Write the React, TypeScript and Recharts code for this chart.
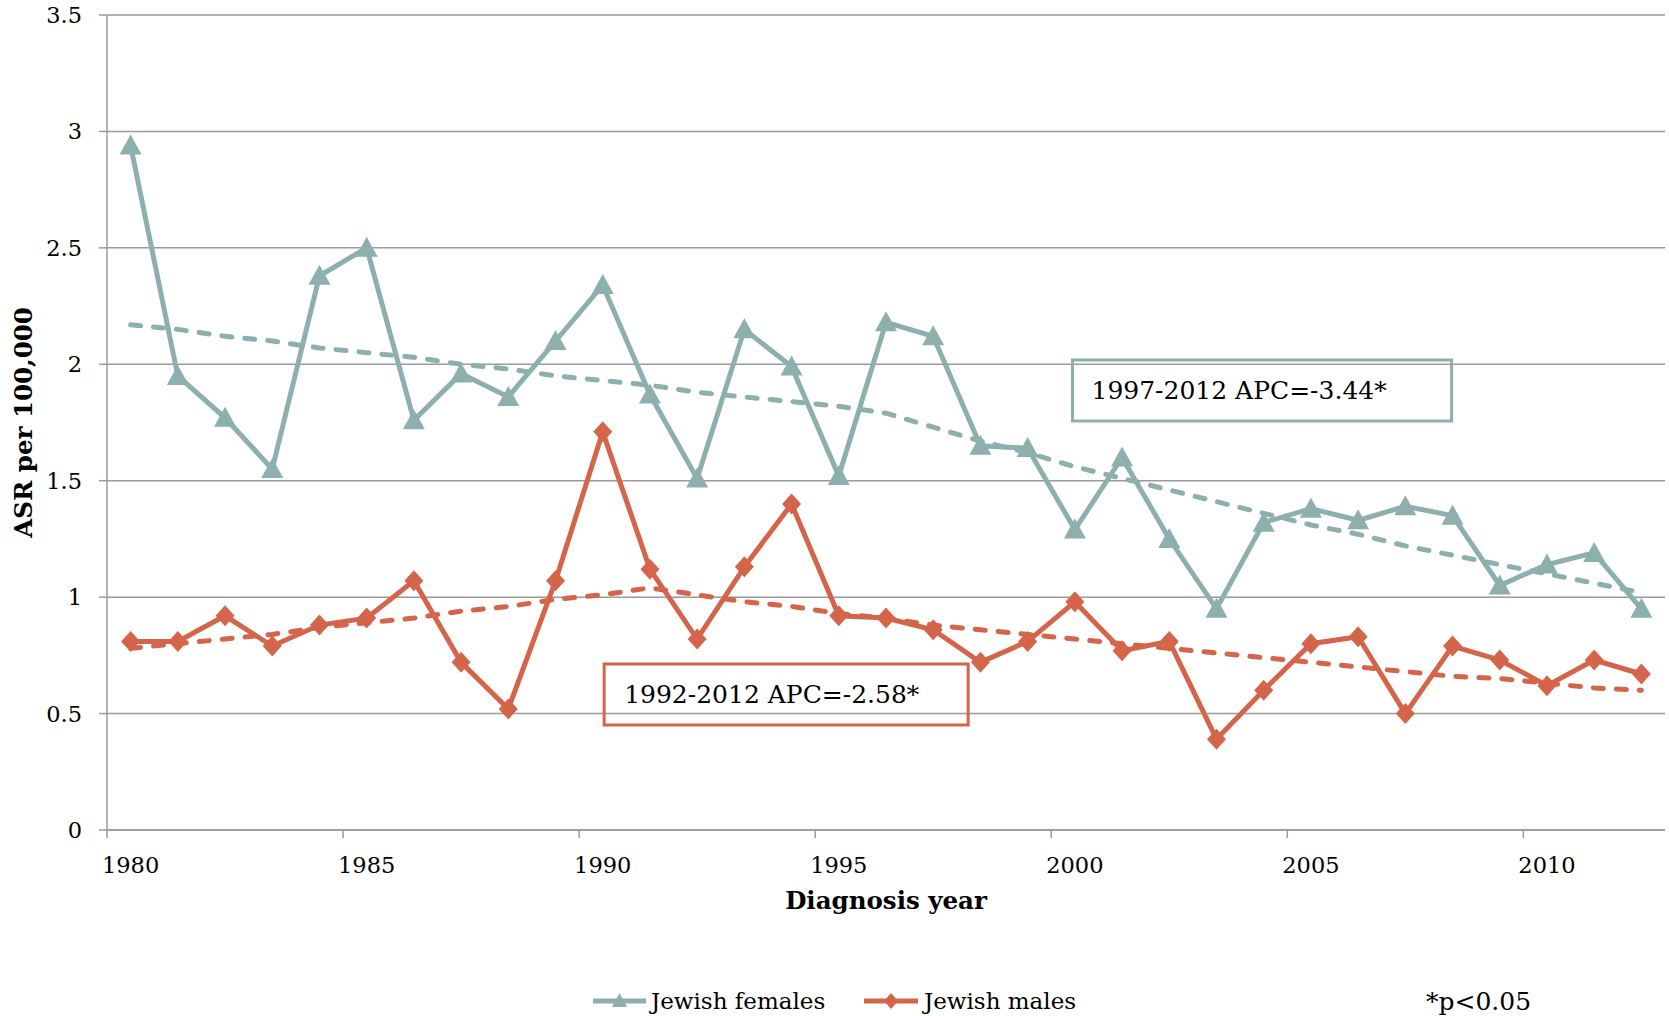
import {
  CartesianGrid,
  Legend,
  Line,
  LineChart,
  ReferenceArea,
  XAxis,
  YAxis,
} from "recharts";

const W = 1669;
const H = 1016;
const FONT = '"DejaVu Serif", Georgia, serif';
const TEAL = "#8DAFAE";
const ORANGE = "#D4654A";
const GRID = "#9a9a9a";

// diagnosis years (points sit in the middle of each year)
const years = [
  1980.5, 1981.5, 1982.5, 1983.5, 1984.5, 1985.5, 1986.5, 1987.5, 1988.5, 1989.5, 1990.5,
  1991.5, 1992.5, 1993.5, 1994.5, 1995.5, 1996.5, 1997.5, 1998.5, 1999.5, 2000.5, 2001.5,
  2002.5, 2003.5, 2004.5, 2005.5, 2006.5, 2007.5, 2008.5, 2009.5, 2010.5, 2011.5, 2012.5,
];
const femaleRates = [
  2.94, 1.95, 1.77, 1.55, 2.38, 2.5, 1.76, 1.96, 1.86, 2.1, 2.34,
  1.87, 1.51, 2.15, 1.99, 1.52, 2.18, 2.12, 1.65, 1.64, 1.29, 1.6,
  1.25, 0.95, 1.32, 1.38, 1.33, 1.39, 1.35, 1.05, 1.14, 1.19, 0.95,
];
const maleRates = [
  0.81, 0.81, 0.92, 0.79, 0.88, 0.91, 1.07, 0.72, 0.52, 1.07, 1.71,
  1.12, 0.82, 1.13, 1.4, 0.92, 0.91, 0.86, 0.72, 0.81, 0.98, 0.77,
  0.81, 0.39, 0.6, 0.8, 0.83, 0.5, 0.79, 0.73, 0.62, 0.73, 0.67,
];
// joinpoint fits (dashed)
const femaleTrend = [
  2.17, 2.15, 2.12, 2.1, 2.07, 2.05, 2.03, 2.0, 1.98, 1.95, 1.93,
  1.91, 1.88, 1.86, 1.84, 1.82, 1.79, 1.73, 1.67, 1.62, 1.56, 1.51,
  1.46, 1.41, 1.36, 1.31, 1.27, 1.22, 1.18, 1.14, 1.1, 1.06, 1.02,
];
const maleTrend = [
  0.78, 0.8, 0.82, 0.84, 0.87, 0.89, 0.91, 0.94, 0.96, 0.99, 1.01,
  1.04, 1.01, 0.98, 0.96, 0.93, 0.91, 0.88, 0.86, 0.84, 0.82, 0.8,
  0.78, 0.76, 0.74, 0.72, 0.7, 0.68, 0.66, 0.65, 0.63, 0.61, 0.6,
];
const xTicks = [1980, 1985, 1990, 1995, 2000, 2005, 2010];
const yTicks = [0, 0.5, 1, 1.5, 2, 2.5, 3, 3.5];
const xDomain = [1980, 2013];

const data = years.map((year, i) => ({
  year,
  females: femaleRates[i],
  males: maleRates[i],
  femaleFit: femaleTrend[i],
  maleFit: maleTrend[i],
}));

const margin = { top: 15, right: 4, left: 0, bottom: 0 };
const yAxisWidth = 107;
const plotW = W - margin.left - margin.right - yAxisWidth;
// labels are centred on the year, tick marks sit on the year boundary
const halfYear = plotW / (xDomain[1] - xDomain[0]) / 2;

const tickStyle = { fill: "#000", fontSize: 22.5, fontFamily: FONT };
const titleStyle = { fill: "#000", fontSize: 24.5, fontWeight: "bold", fontFamily: FONT };
const noteStyle = { fill: "#000", fontSize: 25, fontFamily: FONT };

function Triangle(props: any) {
  const { cx, cy, index } = props;
  if (cx == null || cy == null) return null;
  return (
    <path
      key={`tri-${index}`}
      d={`M${cx},${cy - 11}L${cx + 11},${cy + 9}L${cx - 11},${cy + 9}Z`}
      fill={TEAL}
    />
  );
}

function Diamond(props: any) {
  const { cx, cy, index } = props;
  if (cx == null || cy == null) return null;
  return (
    <path
      key={`dia-${index}`}
      d={`M${cx},${cy - 10.5}L${cx + 9.5},${cy}L${cx},${cy + 10.5}L${cx - 9.5},${cy}Z`}
      fill={ORANGE}
    />
  );
}

function LegendRow() {
  return (
    <svg width={W - 4} height={30} style={{ display: "block" }}>
      <line x1={593} x2={646} y1={15} y2={15} stroke={TEAL} strokeWidth={5} />
      <path d="M619.5,7L627,21L612,21Z" fill={TEAL} />
      <text x={651} y={15} dy="0.35em" fontSize={23} fontFamily={FONT} fill="#000">
        Jewish females
      </text>
      <line x1={864} x2={918} y1={15} y2={15} stroke={ORANGE} strokeWidth={5} />
      <path d="M891,7L898,15L891,23L884,15Z" fill={ORANGE} />
      <text x={924} y={15} dy="0.35em" fontSize={23} fontFamily={FONT} fill="#000">
        Jewish males
      </text>
      <text x={1426} y={15} dy="0.35em" fontSize={25} fontFamily={FONT} fill="#000">
        *p&lt;0.05
      </text>
    </svg>
  );
}

export default function App() {
  return (
    <div style={{ position: "absolute", left: 0, top: 0, background: "#fff" }}>
      <LineChart width={W} height={H} data={data} margin={margin}>
        <CartesianGrid vertical={false} stroke={GRID} strokeWidth={1.5} />
        <XAxis
          dataKey="year"
          type="number"
          domain={xDomain}
          ticks={xTicks}
          height={156}
          stroke={GRID}
          strokeWidth={1.5}
          tickSize={8}
          tickMargin={19}
          tick={{ ...tickStyle, dx: halfYear }}
          label={{ value: "Diagnosis year", position: "insideTop", offset: 62, ...titleStyle }}
        />
        <YAxis
          domain={[0, 3.5]}
          ticks={yTicks}
          width={yAxisWidth}
          stroke={GRID}
          strokeWidth={1.5}
          tickSize={8}
          tickMargin={17}
          tick={tickStyle}
          label={{ value: "ASR per 100,000", angle: -90, position: "center", dx: -30, ...titleStyle }}
        />
        <Legend verticalAlign="bottom" content={() => <LegendRow />} />
        <ReferenceArea
          x1={2000.45}
          x2={2008.48}
          y1={1.756}
          y2={2.018}
          fill="none"
          stroke={TEAL}
          strokeWidth={3}
          label={{ value: "1997-2012 APC=-3.44*", position: "insideLeft", offset: 19, ...noteStyle }}
        />
        <ReferenceArea
          x1={1990.53}
          x2={1998.24}
          y1={0.451}
          y2={0.713}
          fill="none"
          stroke={ORANGE}
          strokeWidth={3}
          label={{ value: "1992-2012 APC=-2.58*", position: "insideLeft", offset: 20, ...noteStyle }}
        />
        <Line
          dataKey="females"
          stroke={TEAL}
          strokeWidth={5}
          dot={Triangle}
          activeDot={false}
          isAnimationActive={false}
        />
        <Line
          dataKey="males"
          stroke={ORANGE}
          strokeWidth={5}
          dot={Diamond}
          activeDot={false}
          isAnimationActive={false}
        />
        <Line
          dataKey="femaleFit"
          stroke={TEAL}
          strokeWidth={5}
          strokeDasharray="10 13"
          strokeLinecap="round"
          dot={false}
          activeDot={false}
          isAnimationActive={false}
        />
        <Line
          dataKey="maleFit"
          stroke={ORANGE}
          strokeWidth={5}
          strokeDasharray="10 13"
          strokeLinecap="round"
          dot={false}
          activeDot={false}
          isAnimationActive={false}
        />
      </LineChart>
    </div>
  );
}
